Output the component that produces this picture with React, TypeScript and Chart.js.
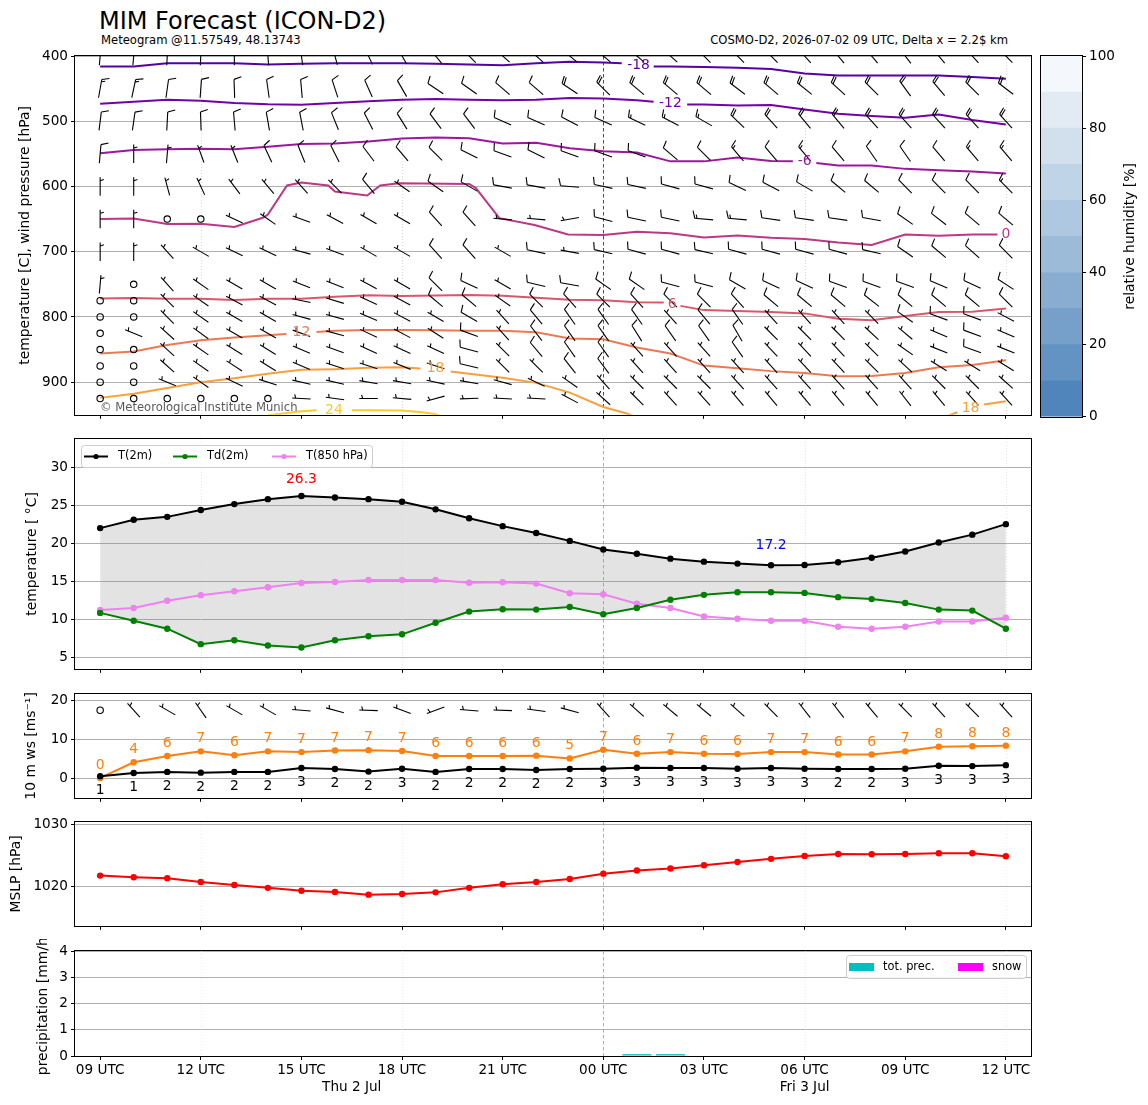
import React, { useEffect, useRef } from 'react';
import { Chart, registerables } from 'chart.js';

Chart.register(...registerables);

const FONT = '"DejaVu Sans", "Noto Sans", sans-serif';
const TICK_FS = 13.6;
const LABEL_FS = 13.9;
Chart.defaults.font.family = FONT;
Chart.defaults.font.size = TICK_FS;
Chart.defaults.color = '#000';

// ---------------- data ----------------
const hours = [0, 1, 2, 3, 4, 5, 6, 7, 8, 9, 10, 11, 12, 13, 14, 15, 16, 17, 18, 19, 20, 21, 22, 23, 24, 25, 26, 27];
const hourTicks = [0, 3, 6, 9, 12, 15, 18, 21, 24, 27];
const hourTickLabels = ['09 UTC', '12 UTC', '15 UTC', '18 UTC', '21 UTC', '00 UTC', '03 UTC', '06 UTC', '09 UTC', '12 UTC'];
const dateLabels = ['Thu 2 Jul', 'Fri 3 Jul'];
const dateLabelHours = [7.5, 21];
const vGridHours = [3, 9, 15, 21, 27];
const midnightHour = 15;

const t2m = [22.08, 23.17, 23.56, 24.46, 25.24, 25.89, 26.3, 26.1, 25.89, 25.54, 24.55, 23.38, 22.34, 21.44, 20.4, 19.27, 18.71, 18.06, 17.67, 17.41, 17.2, 17.22, 17.59, 18.19, 19.01, 20.18, 21.22, 22.6];
const td2m = [10.93, 9.89, 8.85, 6.82, 7.34, 6.64, 6.38, 7.34, 7.85, 8.11, 9.63, 11.1, 11.4, 11.36, 11.7, 10.75, 11.57, 12.66, 13.3, 13.65, 13.65, 13.56, 13.0, 12.74, 12.22, 11.36, 11.23, 8.85];
const t850 = [11.31, 11.57, 12.53, 13.26, 13.78, 14.3, 14.86, 14.99, 15.25, 15.25, 15.25, 14.9, 14.95, 14.78, 13.52, 13.39, 12.14, 11.57, 10.45, 10.15, 9.89, 9.89, 9.11, 8.85, 9.11, 9.8, 9.8, 10.28];

const ws10 = [0.66, 1.45, 1.74, 1.55, 1.74, 1.74, 2.73, 2.48, 1.82, 2.56, 1.74, 2.48, 2.48, 2.23, 2.48, 2.56, 2.81, 2.73, 2.73, 2.56, 2.73, 2.56, 2.48, 2.48, 2.56, 3.31, 3.22, 3.47];
const gust10 = [0.2, 4.2, 5.8, 7.0, 6.0, 7.0, 6.8, 7.2, 7.3, 7.1, 5.8, 5.8, 5.8, 5.9, 5.2, 7.4, 6.4, 6.8, 6.4, 6.3, 6.8, 6.8, 6.2, 6.2, 7.0, 8.2, 8.3, 8.45];
const dir10 = [0, 318, 300, 325, 300, 300, 275, 285, 272, 290, 250, 275, 272, 278, 285, 318, 312, 310, 310, 312, 315, 322, 322, 320, 315, 318, 315, 318];

const mslp = [1021.74, 1021.47, 1021.32, 1020.68, 1020.21, 1019.74, 1019.26, 1019.05, 1018.63, 1018.74, 1019.0, 1019.74, 1020.32, 1020.68, 1021.18, 1022.05, 1022.58, 1022.89, 1023.42, 1023.95, 1024.47, 1024.95, 1025.26, 1025.21, 1025.26, 1025.37, 1025.37, 1024.9];

const totPrec = [0, 0, 0, 0, 0, 0, 0, 0, 0, 0, 0, 0, 0, 0, 0, 0, 0.07, 0.07, 0, 0, 0, 0, 0, 0, 0, 0, 0, 0];
const snowPrec = [0, 0, 0, 0, 0, 0, 0, 0, 0, 0, 0, 0, 0, 0, 0, 0, 0, 0, 0, 0, 0, 0, 0, 0, 0, 0, 0, 0];

// upper-air wind: direction (deg, from) and speed (kt) per pressure level
const levels = [400, 450, 500, 550, 600, 650, 700, 750, 775, 800, 825, 850, 875, 900, 925];
const windDir = [
  [5, 5, 3, 3, 0, 355, 352, 345, 335, 330, 320, 315, 312, 312, 310, 310, 310, 312, 315, 315, 315, 318, 320, 320, 322, 320, 318, 315],
  [10, 12, 8, 4, 358, 352, 355, 342, 336, 330, 304, 305, 311, 311, 304, 315, 310, 310, 310, 307, 310, 309, 312, 315, 324, 320, 315, 307],
  [7, 8, 3, 358, 355, 350, 349, 338, 333, 328, 323, 323, 294, 294, 298, 294, 295, 298, 300, 314, 318, 320, 320, 318, 318, 318, 318, 318],
  [5, 0, 5, 340, 338, 335, 338, 333, 323, 320, 315, 297, 290, 296, 290, 290, 290, 310, 315, 320, 320, 320, 320, 325, 325, 320, 320, 320],
  [0, 0, 345, 335, 323, 320, 318, 315, 320, 305, 305, 300, 280, 280, 275, 282, 282, 285, 285, 295, 298, 300, 310, 310, 315, 315, 315, 315],
  [0, 0, 0, 0, 295, 305, 290, 298, 300, 300, 318, 318, 275, 275, 260, 285, 282, 282, 275, 275, 278, 278, 278, 280, 305, 308, 310, 310],
  [0, 0, 318, 300, 295, 295, 285, 290, 300, 300, 318, 318, 300, 282, 280, 283, 285, 285, 283, 285, 285, 285, 285, 283, 305, 310, 312, 315],
  [5, 0, 318, 305, 300, 300, 292, 292, 298, 300, 315, 295, 300, 283, 280, 305, 305, 285, 285, 300, 295, 295, 290, 290, 290, 293, 295, 303],
  [0, 0, 315, 305, 298, 298, 282, 287, 295, 298, 310, 310, 305, 315, 318, 315, 318, 315, 315, 318, 310, 310, 310, 308, 310, 310, 310, 315],
  [0, 0, 315, 305, 300, 300, 285, 285, 293, 298, 300, 300, 318, 320, 325, 325, 325, 318, 320, 325, 318, 318, 318, 315, 305, 290, 290, 298],
  [0, 292, 312, 306, 300, 300, 290, 285, 295, 298, 303, 290, 318, 322, 325, 325, 328, 325, 325, 330, 315, 315, 315, 313, 310, 293, 290, 293],
  [0, 0, 312, 305, 302, 302, 293, 290, 295, 295, 295, 285, 315, 320, 325, 325, 318, 318, 318, 325, 317, 317, 317, 315, 305, 292, 290, 292],
  [0, 0, 312, 305, 303, 302, 293, 288, 288, 292, 288, 283, 315, 315, 322, 323, 318, 318, 318, 318, 318, 317, 317, 315, 313, 302, 302, 302],
  [0, 0, 292, 305, 295, 288, 283, 283, 280, 280, 282, 280, 285, 295, 305, 318, 315, 315, 315, 318, 318, 318, 318, 318, 318, 315, 315, 312],
  [0, 0, 0, 0, 0, 0, 273, 278, 270, 275, 255, 268, 273, 273, 298, 312, 315, 318, 318, 320, 320, 320, 320, 320, 322, 320, 318, 318],
];
const windSpeed = [
  [15, 15, 15, 15, 15, 15, 15, 15, 15, 15, 15, 15, 15, 15, 20, 20, 20, 20, 20, 20, 20, 20, 20, 20, 20, 20, 20, 20],
  [15, 15, 10, 10, 10, 10, 10, 10, 10, 10, 10, 10, 10, 10, 20, 20, 20, 20, 20, 20, 20, 20, 20, 20, 20, 20, 20, 20],
  [10, 10, 10, 10, 10, 10, 10, 10, 10, 10, 10, 10, 10, 10, 10, 10, 15, 15, 15, 20, 20, 20, 20, 20, 20, 20, 20, 20],
  [10, 5, 5, 5, 5, 10, 10, 10, 10, 10, 10, 10, 10, 10, 10, 10, 10, 10, 10, 15, 10, 15, 10, 10, 10, 10, 15, 15],
  [5, 5, 5, 5, 5, 5, 5, 5, 10, 5, 10, 10, 10, 10, 10, 10, 10, 10, 10, 10, 10, 10, 10, 10, 10, 10, 10, 15],
  [5, 5, 0, 0, 5, 5, 5, 5, 5, 5, 10, 10, 5, 5, 5, 10, 10, 10, 15, 15, 10, 10, 10, 10, 10, 10, 10, 10],
  [5, 5, 5, 5, 5, 5, 5, 5, 5, 5, 10, 10, 5, 10, 5, 10, 10, 10, 10, 10, 10, 10, 10, 10, 10, 10, 10, 10],
  [5, 0, 5, 5, 5, 5, 5, 5, 5, 5, 10, 10, 5, 10, 10, 10, 10, 10, 10, 10, 10, 10, 10, 10, 10, 10, 10, 10],
  [0, 0, 5, 5, 5, 5, 5, 5, 5, 5, 10, 10, 5, 10, 10, 10, 10, 10, 10, 10, 10, 10, 10, 10, 10, 10, 10, 10],
  [0, 0, 5, 5, 5, 5, 5, 5, 5, 5, 5, 10, 5, 10, 10, 10, 10, 5, 10, 10, 5, 5, 5, 5, 10, 10, 10, 5],
  [0, 5, 5, 5, 5, 5, 5, 5, 5, 5, 5, 10, 5, 10, 10, 10, 10, 10, 10, 10, 5, 5, 5, 5, 5, 5, 10, 5],
  [0, 0, 5, 5, 5, 5, 5, 5, 5, 5, 5, 10, 5, 10, 10, 10, 5, 5, 5, 10, 5, 5, 5, 5, 5, 5, 10, 5],
  [0, 0, 5, 5, 5, 5, 5, 5, 5, 5, 5, 10, 5, 5, 10, 10, 5, 5, 5, 5, 5, 5, 5, 5, 5, 5, 5, 5],
  [0, 0, 5, 5, 5, 5, 5, 5, 5, 5, 5, 5, 5, 5, 5, 5, 5, 5, 5, 5, 5, 5, 5, 5, 5, 5, 5, 5],
  [0, 0, 0, 0, 0, 0, 5, 5, 5, 5, 5, 5, 5, 5, 5, 5, 5, 5, 5, 5, 5, 5, 5, 5, 5, 5, 5, 5],
];

// isotherms: [hour, pressure]; null pressure = gap for the inline label
const isoM18 = [[0, 416], [1, 416], [2, 411], [3, 411], [4, 411], [5, 413], [6, 412], [7, 411], [8, 411], [9, 411], [10, 412], [11, 413], [12, 414], [13, 411], [14, 409], [15, 410], [15.55, 411], [16.05, null], [16.5, 416], [17, 416], [18, 417], [19, 418], [20, 420], [21, 427], [22, 430], [23, 430], [24, 430], [25, 430], [26, 432], [27, 435]];
const isoM12 = [[0, 473], [1, 470], [2, 467], [3, 468.6], [4, 472], [5, 474], [6, 474.6], [7, 472], [8, 469.4], [9, 467], [10, 466], [11, 467], [12, 468], [13, 467], [14, 464.3], [15, 465], [16, 468], [16.5, 470], [17, null], [17.5, 474.5], [18, 474.5], [19, 476], [20, 475], [21, 482], [22, 488.6], [23, 492], [24, 494.7], [25, 489.6], [26, 498], [27, 505]];
const isoM6 = [[0, 549], [1, 544], [2, 543], [3, 542], [4, 543], [5, 539], [6, 535], [7, 534], [8, 531], [9, 526.6], [10, 525], [11, 526], [12, 534], [13, 533], [14, 541.5], [15, 546], [16, 548], [17, 561.5], [18, 561.5], [19, 555.5], [20, 561], [20.65, 561.5], [21, null], [21.35, 564], [22, 568], [23, 568], [24, 573], [25, 575], [26, 577], [27, 580]];
const iso0 = [[0, 650], [1, 649], [2, 657.5], [3, 657], [4, 662], [4.85, 648], [5.0, 643], [5.57, 598.5], [6.0, 594], [6.8, 598.5], [7.0, 607.6], [7.96, 613.7], [8.35, 598.5], [8.9, 595], [11.0, 596], [11.2, 602.5], [11.9, 648.5], [12.95, 659], [13.95, 673.5], [15, 674.5], [16, 669.4], [17, 671.5], [18, 678], [19, 675], [20, 678.5], [21, 680.6], [22, 686], [23, 689.7], [24, 673.5], [25, 675.5], [26, 673.5], [26.75, 673.5]];
const iso6 = [[0, 771.7], [1, 771], [2, 772], [3, 772], [4, 774], [5, 772], [6, 772], [7, 769], [8, 766.7], [9, 768], [10, 767], [11, 766.5], [12, 767.5], [13, 770.5], [14, 773.5], [15, 774.5], [16, 777.5], [16.8, 778], [17.05, null], [17.3, 783], [18, 789.5], [19, 791], [20, 792.5], [21, 794.5], [22, 802.6], [23, 805], [24, 798.5], [25, 792.5], [26, 792], [27, 787]];
const iso12 = [[0, 855.8], [1, 853], [2, 843], [3, 835.5], [4, 831.5], [5, 828], [5.55, 826], [6, null], [6.45, 823], [7, 821.3], [8, 819.8], [9, 820], [10, 820.5], [11, 821], [12, 821], [13, 823.4], [14, 833], [15, 834], [16, 846.7], [17, 856], [18, 874.5], [19, 878.6], [20, 883], [21, 886], [22, 891], [23, 890.5], [24, 886], [25, 877], [26, 873.5], [27, 866.5]];
const iso18 = [[0, 924], [1, 917.6], [2, 909], [3, 900], [4, 894], [5, 887], [6, 881], [7, 880], [8, 878], [9, 877], [9.55, 879], [10, null], [10.45, 883.6], [11, 887], [12, 893], [13, 901], [14, 916], [15, 938], [15.7, 948], [15.85, 951], [20, null], [25.3, 951], [25.55, 946], [26, null], [26.35, 934], [27, 929]];
const iso24 = [[5.0, 951], [5.2, 949.5], [6.0, 944.5], [6.45, 943], [6.97, null], [7.5, 943], [8, 943], [9, 943.5], [9.6, 946], [10.0, 949], [10.1, 951]];
const isoLines = [isoM18, isoM12, isoM6, iso0, iso6, iso12, iso18, iso24];
const isoValues = [-18, -12, -6, 0, 6, 12, 18, 24];
const isoLabelValues = [-18, -12, -6, 0, 6, 12, 18, 18, 24];
const isoLabelHours = [16.05, 17.0, 21.0, 27.0, 17.05, 6.0, 10.0, 25.95, 6.97];
const isoLabelPress = [414, 473, 562, 673.5, 780, 823.5, 879, 940, 942.5];

const p1Ticks = [400, 500, 600, 700, 800, 900];
const p2Ticks = [5, 10, 15, 20, 25, 30];
const p3Ticks = [0, 10, 20];
const p4Ticks = [1020, 1030];
const p5Ticks = [0, 1, 2, 3, 4];
const rhTicks = [0, 20, 40, 60, 80, 100];
const rhBounds = [0, 10, 20, 30, 40, 50, 60, 70, 80, 90, 100];

// ---------------- style ----------------
const isoColors = ['#5302a3', '#7201a8', '#9c179e', '#bd3786', '#d8576b', '#ed7953', '#fb9f3a', '#fdca26'];
const rhColors = ['#4f85bb', '#6393c3', '#76a0ca', '#88add1', '#9bbbd9', '#adc8e0', '#bfd4e7', '#d2e0ed', '#e2ebf4', '#f4f8fc'];
const W = 1148;
const PLOT_L = 75;
const PLOT_R = 1031;
const PAD_TOP = 12;
const BARB_L = 18.5;

// ---------------- helpers ----------------
function drawBarb(ctx: any, cx: number, cy: number, dirDeg: number, speed: number, L: number) {
  const spd = Math.round(speed / 5) * 5;
  ctx.save();
  ctx.strokeStyle = '#000';
  ctx.fillStyle = '#000';
  ctx.lineWidth = 1.1;
  if (spd <= 0) {
    ctx.beginPath();
    ctx.arc(cx, cy, 3.2, 0, Math.PI * 2);
    ctx.stroke();
    ctx.restore();
    return;
  }
  const r = (dirDeg * Math.PI) / 180;
  const dx = Math.sin(r);
  const dy = -Math.cos(r);
  const px = -dy;
  const py = dx;
  const bx = cx - (dx * L) / 2;
  const by = cy - (dy * L) / 2;
  const at = (o: number, side: number) => [bx + dx * o + px * side, by + dy * o + py * side];
  const h = 0.4 * L, w = 0.25 * L, s = 0.125 * L;
  ctx.beginPath();
  let p = at(0, 0);
  ctx.moveTo(p[0], p[1]);
  p = at(L, 0);
  ctx.lineTo(p[0], p[1]);
  ctx.stroke();
  const nflags = Math.floor(spd / 50);
  const rem = spd - nflags * 50;
  const nbarbs = Math.floor(rem / 10);
  const half = rem - nbarbs * 10 >= 5;
  let offset = L;
  for (let i = 0; i < nflags; i++) {
    if (offset !== L) offset += s / 2;
    const a = at(offset, 0), b = at(offset - w / 2, h), c = at(offset - w, 0);
    ctx.beginPath();
    ctx.moveTo(a[0], a[1]);
    ctx.lineTo(b[0], b[1]);
    ctx.lineTo(c[0], c[1]);
    ctx.closePath();
    ctx.fill();
    offset -= w + s;
  }
  for (let i = 0; i < nbarbs; i++) {
    const a = at(offset, 0), b = at(offset + w / 2, h);
    ctx.beginPath();
    ctx.moveTo(a[0], a[1]);
    ctx.lineTo(b[0], b[1]);
    ctx.stroke();
    offset -= s;
  }
  if (half) {
    if (offset === L) offset -= 1.5 * s;
    const a = at(offset, 0), b = at(offset + w / 4, h / 2);
    ctx.beginPath();
    ctx.moveTo(a[0], a[1]);
    ctx.lineTo(b[0], b[1]);
    ctx.stroke();
  }
  ctx.restore();
}

const framePlugin = {
  id: 'frame',
  afterDraw(chart: any) {
    const { ctx, chartArea: a } = chart;
    ctx.save();
    ctx.strokeStyle = '#000';
    ctx.lineWidth = 1;
    ctx.strokeRect(Math.round(a.left) - 0.5, Math.round(a.top) - 0.5, Math.round(a.right - a.left) + 1, Math.round(a.bottom - a.top) + 1);
    ctx.restore();
  },
};

function vGridPlugin(midColor: string, otherColor: string) {
  return {
    id: 'vgrid',
    beforeDatasetsDraw(chart: any) {
      const { ctx, chartArea: a, scales } = chart;
      ctx.save();
      vGridHours.forEach((hr) => {
        const x = Math.round(scales.x.getPixelForValue(hr)) + 0.5;
        const mid = hr === midnightHour;
        ctx.strokeStyle = mid ? midColor : otherColor;
        ctx.lineWidth = mid ? 0.8 : 0.6;
        ctx.setLineDash(mid ? [3.5, 2.5] : [1, 2]);
        ctx.beginPath();
        ctx.moveTo(x, a.top);
        ctx.lineTo(x, a.bottom);
        ctx.stroke();
      });
      ctx.restore();
    },
  };
}

function xScale(showLabels: boolean, bottomSpace: number) {
  return {
    type: 'linear',
    min: -0.75,
    max: 27.75,
    afterBuildTicks: (s: any) => {
      s.ticks = hourTicks.map((v) => ({ value: v }));
    },
    ticks: {
      display: showLabels,
      autoSkip: false,
      maxRotation: 0,
      minRotation: 0,
      padding: 2,
      color: '#000',
      font: { size: TICK_FS },
      callback: (v: number) => {
        const i = hourTicks.indexOf(v);
        return i >= 0 ? hourTickLabels[i] : '';
      },
    },
    grid: { drawOnChartArea: false, drawTicks: true, tickLength: 4, tickColor: '#000', color: '#000' },
    border: { display: false },
    afterFit: (s: any) => {
      s.height = bottomSpace;
    },
  };
}

function yScale(min: number, max: number, ticks: number[], title: string, titleCenter: number, reverse = false) {
  return {
    type: 'linear',
    min,
    max,
    reverse,
    afterBuildTicks: (s: any) => {
      s.ticks = ticks.map((v) => ({ value: v }));
    },
    ticks: { autoSkip: false, padding: 3, color: '#000', font: { size: TICK_FS }, callback: (v: number) => `${v}` },
    grid: { color: '#b0b0b0', lineWidth: 1, tickColor: '#000', tickLength: 4 },
    border: { display: false },
    title: { display: true, text: title, color: '#000', font: { size: LABEL_FS }, padding: { top: titleCenter - (1.2 * LABEL_FS) / 2, bottom: 0 } },
    afterFit: (s: any) => {
      s.width = PLOT_L;
    },
  };
}

function baseOptions(x: any, y: any) {
  return {
    animation: false,
    responsive: false,
    maintainAspectRatio: false,
    events: [],
    layout: { padding: { left: 0, right: W - PLOT_R, top: PAD_TOP, bottom: 0 } },
    plugins: { legend: { display: false }, tooltip: { enabled: false }, filler: { drawTime: 'beforeDatasetsDraw' } },
    scales: { x, y },
  };
}

const pts = (arr: number[]) => hours.map((hr, i) => ({ x: hr, y: arr[i] }));

function lineDs(label: string, arr: number[], color: string, extra: any = {}) {
  return {
    label,
    data: pts(arr),
    borderColor: color,
    backgroundColor: color,
    pointBackgroundColor: color,
    pointBorderWidth: 0,
    pointRadius: 3.2,
    borderWidth: 2,
    tension: 0,
    fill: false,
    ...extra,
  };
}

// ---------------- panel configs ----------------
function cfgUpper(): any {
  const barbs = {
    id: 'barbs',
    afterDatasetsDraw(chart: any) {
      const { ctx, chartArea: a, scales } = chart;
      ctx.save();
      ctx.beginPath();
      ctx.rect(a.left, a.top, a.right - a.left, a.bottom - a.top);
      ctx.clip();
      levels.forEach((lev, li) => {
        hours.forEach((hr, hi) => {
          drawBarb(ctx, scales.x.getPixelForValue(hr), scales.y.getPixelForValue(lev), windDir[li][hi], windSpeed[li][hi], BARB_L);
        });
      });
      ctx.restore();
    },
  };
  const isoLabels = {
    id: 'isoLabels',
    afterDatasetsDraw(chart: any) {
      const { ctx, scales } = chart;
      ctx.save();
      ctx.font = `${LABEL_FS}px ${FONT}`;
      ctx.textAlign = 'center';
      ctx.textBaseline = 'middle';
      isoLabelValues.forEach((v, i) => {
        ctx.fillStyle = isoColors[isoValues.indexOf(v)];
        ctx.fillText(`${v}`, scales.x.getPixelForValue(isoLabelHours[i]), scales.y.getPixelForValue(isoLabelPress[i]));
      });
      ctx.restore();
    },
  };
  const copyright = {
    id: 'copyright',
    afterDatasetsDraw(chart: any) {
      const { ctx, chartArea: a } = chart;
      ctx.save();
      ctx.font = `11.6px ${FONT}`;
      ctx.fillStyle = 'rgba(60,60,60,0.85)';
      ctx.textAlign = 'left';
      ctx.textBaseline = 'alphabetic';
      ctx.fillText('© Meteorological Institute Munich', a.left + 25, a.bottom - 4);
      ctx.restore();
    },
  };
  return {
    type: 'line',
    data: {
      datasets: isoLines.map((line, i) => ({
        label: `${isoValues[i]}`,
        data: line.map((pt) => ({ x: pt[0], y: pt[1] })),
        borderColor: isoColors[i],
        borderWidth: 2,
        pointRadius: 0,
        fill: false,
        tension: 0,
        spanGaps: false,
      })),
    },
    options: baseOptions(xScale(false, 8), yScale(400, 950, p1Ticks, 'temperature [C], wind pressure [hPa]', 25, true)),
    plugins: [vGridPlugin('#222', '#c4c4c4'), barbs, isoLabels, copyright, framePlugin],
  };
}

function cfgTemp(): any {
  const extremes = {
    id: 'extremes',
    afterDatasetsDraw(chart: any) {
      const { ctx, scales } = chart;
      const mx = Math.max(...t2m);
      const mn = Math.min(...t2m);
      ctx.save();
      ctx.font = `${LABEL_FS}px ${FONT}`;
      ctx.textAlign = 'center';
      ctx.textBaseline = 'middle';
      ctx.fillStyle = '#ff0000';
      ctx.fillText(mx.toFixed(1), scales.x.getPixelForValue(hours[t2m.indexOf(mx)]), scales.y.getPixelForValue(mx + 2.2));
      ctx.fillStyle = '#0000ff';
      ctx.fillText(mn.toFixed(1), scales.x.getPixelForValue(hours[t2m.indexOf(mn)]), scales.y.getPixelForValue(mn + 2.6));
      ctx.restore();
    },
  };
  const legend = {
    id: 'legendBox',
    afterDraw(chart: any) {
      const { ctx, chartArea: a } = chart;
      const lx = a.left + 6, ly = a.top + 6, lw = 291, lh = 22;
      ctx.save();
      ctx.fillStyle = 'rgba(255,255,255,0.85)';
      ctx.strokeStyle = '#cccccc';
      ctx.lineWidth = 1;
      ctx.beginPath();
      (ctx as any).roundRect(lx + 0.5, ly + 0.5, lw, lh, 3);
      ctx.fill();
      ctx.stroke();
      const offs = [3, 92, 191];
      ctx.font = `11.4px ${FONT}`;
      ctx.textBaseline = 'middle';
      ctx.textAlign = 'left';
      chart.data.datasets.forEach((ds: any, i: number) => {
        const x0 = lx + offs[i];
        const yc = ly + lh / 2 + 0.5;
        ctx.strokeStyle = ds.borderColor;
        ctx.lineWidth = 2;
        ctx.beginPath();
        ctx.moveTo(x0, yc);
        ctx.lineTo(x0 + 24, yc);
        ctx.stroke();
        ctx.fillStyle = ds.borderColor;
        ctx.beginPath();
        ctx.arc(x0 + 12, yc, 2.6, 0, Math.PI * 2);
        ctx.fill();
        ctx.fillStyle = '#000';
        ctx.fillText(ds.label, x0 + 34, yc);
      });
      ctx.restore();
    },
  };
  return {
    type: 'line',
    data: {
      datasets: [
        lineDs('T(2m)', t2m, '#000000', { fill: '+1', backgroundColor: 'rgba(128,128,128,0.22)' }),
        lineDs('Td(2m)', td2m, '#008000'),
        lineDs('T(850 hPa)', t850, '#ee82ee'),
      ],
    },
    options: baseOptions(xScale(false, 8), yScale(3.57, 33.8, p2Ticks, 'temperature [ °C]', 32)),
    plugins: [vGridPlugin('#999', '#d8d8d8'), extremes, legend, framePlugin],
  };
}

function cfgWind(): any {
  const extras = {
    id: 'windExtras',
    afterDatasetsDraw(chart: any) {
      const { ctx, scales } = chart;
      hours.forEach((hr, i) => {
        drawBarb(ctx, scales.x.getPixelForValue(hr), scales.y.getPixelForValue(17.5), dir10[i], ws10[i] * 1.943844, BARB_L);
      });
      ctx.save();
      ctx.font = `${LABEL_FS}px ${FONT}`;
      ctx.textAlign = 'center';
      ctx.textBaseline = 'middle';
      hours.forEach((hr, i) => {
        const x = scales.x.getPixelForValue(hr);
        ctx.fillStyle = '#000';
        ctx.fillText(`${Math.round(ws10[i])}`, x, scales.y.getPixelForValue(ws10[i] - 3.7));
        ctx.fillStyle = '#ff7f0e';
        ctx.fillText(`${Math.round(gust10[i])}`, x, scales.y.getPixelForValue(gust10[i] + 3.2));
      });
      ctx.restore();
    },
  };
  return {
    type: 'line',
    data: {
      datasets: [lineDs('wind speed', ws10, '#000000'), lineDs('gusts', gust10, '#ff7f0e')],
    },
    options: baseOptions(xScale(false, 8), yScale(-4.89, 21.66, p3Ticks, '10 m ws [ms⁻¹]', 31)),
    plugins: [vGridPlugin('#999', '#e0e0e0'), extras, framePlugin],
  };
}

function cfgPres(): any {
  return {
    type: 'line',
    data: { datasets: [lineDs('MSLP', mslp, '#ff0000')] },
    options: baseOptions(xScale(false, 8), yScale(1013.54, 1030.48, p4Ticks, 'MSLP [hPa]', 16)),
    plugins: [vGridPlugin('#999', '#e0e0e0'), framePlugin],
  };
}

function cfgPrecip(): any {
  const extras = {
    id: 'precipExtras',
    afterDraw(chart: any) {
      const { ctx, chartArea: a, scales } = chart;
      ctx.save();
      ctx.font = `${TICK_FS}px ${FONT}`;
      ctx.fillStyle = '#000';
      ctx.textAlign = 'center';
      ctx.textBaseline = 'middle';
      dateLabels.forEach((t, i) => ctx.fillText(t, scales.x.getPixelForValue(dateLabelHours[i]), a.bottom + 31));
      const lw = 180, lh = 23;
      const lx = a.right - 5 - lw, ly = a.top + 4;
      ctx.fillStyle = 'rgba(255,255,255,0.85)';
      ctx.strokeStyle = '#cccccc';
      ctx.lineWidth = 1;
      ctx.beginPath();
      (ctx as any).roundRect(lx + 0.5, ly + 0.5, lw, lh, 3);
      ctx.fill();
      ctx.stroke();
      const offs = [3, 112];
      ctx.font = `11.4px ${FONT}`;
      ctx.textAlign = 'left';
      chart.data.datasets.forEach((ds: any, i: number) => {
        const x0 = lx + offs[i];
        const yc = ly + lh / 2 + 0.5;
        ctx.fillStyle = ds.backgroundColor;
        ctx.fillRect(x0, yc - 4, 25, 8);
        ctx.fillStyle = '#000';
        ctx.fillText(ds.label, x0 + 34, yc);
      });
      ctx.restore();
    },
  };
  const opts: any = baseOptions(xScale(true, 49), yScale(0, 4, p5Ticks, 'precipitation [mm/h]', 43));
  opts.scales.x.offset = false;
  opts.scales.x.grid.offset = false;
  return {
    type: 'bar',
    data: {
      datasets: [
        { label: 'tot. prec.', data: pts(totPrec), backgroundColor: '#00bfbf', grouped: false, barPercentage: 0.93, categoryPercentage: 0.93, borderWidth: 0 },
        { label: 'snow', data: pts(snowPrec), backgroundColor: '#ff00ff', grouped: false, barPercentage: 0.93, categoryPercentage: 0.93, borderWidth: 0 },
      ],
    },
    options: opts,
    plugins: [vGridPlugin('#999', '#e0e0e0'), extras, framePlugin],
  };
}

function cfgColorbar(): any {
  const title = {
    id: 'cbTitle',
    afterDraw(chart: any) {
      const { ctx, chartArea: a } = chart;
      ctx.save();
      ctx.translate(100, (a.top + a.bottom) / 2);
      ctx.rotate(-Math.PI / 2);
      ctx.font = `${LABEL_FS}px ${FONT}`;
      ctx.fillStyle = '#000';
      ctx.textAlign = 'center';
      ctx.textBaseline = 'middle';
      ctx.fillText('relative humidity [%]', 0, 0);
      ctx.restore();
    },
  };
  return {
    type: 'bar',
    data: {
      labels: ['rh'],
      datasets: rhColors.map((c, i) => ({
        label: `${rhBounds[i]}-${rhBounds[i + 1]}`,
        data: [rhBounds[i + 1] - rhBounds[i]],
        backgroundColor: c,
        borderWidth: 0,
        barPercentage: 1,
        categoryPercentage: 1,
        stack: 'rh',
      })),
    },
    options: {
      animation: false,
      responsive: false,
      maintainAspectRatio: false,
      events: [],
      layout: { padding: { left: 11, right: 0, top: PAD_TOP, bottom: 10 } },
      plugins: { legend: { display: false }, tooltip: { enabled: false } },
      scales: {
        x: { display: false, stacked: true },
        y: {
          position: 'right',
          stacked: true,
          min: 0,
          max: 100,
          afterBuildTicks: (s: any) => {
            s.ticks = rhTicks.map((v) => ({ value: v }));
          },
          ticks: { padding: 3, color: '#000', font: { size: TICK_FS }, callback: (v: number) => `${v}` },
          grid: { drawOnChartArea: false, tickLength: 4, tickColor: '#000', color: '#000' },
          border: { display: false },
          afterFit: (s: any) => {
            s.width = 66;
          },
        },
      },
    },
    plugins: [title, framePlugin],
  };
}

// ---------------- component ----------------
const panels = [
  { top: 56, bottom: 418, below: 8 },
  { top: 439, bottom: 672, below: 8 },
  { top: 694, bottom: 801, below: 8 },
  { top: 822, bottom: 929, below: 8 },
  { top: 951, bottom: 1056, below: 49 },
];

export default function App() {
  const refs = [useRef<HTMLCanvasElement>(null), useRef<HTMLCanvasElement>(null), useRef<HTMLCanvasElement>(null), useRef<HTMLCanvasElement>(null), useRef<HTMLCanvasElement>(null)];
  const cbRef = useRef<HTMLCanvasElement>(null);

  useEffect(() => {
    const makers = [cfgUpper, cfgTemp, cfgWind, cfgPres, cfgPrecip];
    const charts: Chart[] = [];
    refs.forEach((r, i) => {
      if (r.current) charts.push(new Chart(r.current, makers[i]()));
    });
    if (cbRef.current) charts.push(new Chart(cbRef.current, cfgColorbar()));
    return () => charts.forEach((c) => c.destroy());
  }, []);

  return (
    <div style={{ position: 'absolute', left: 0, top: 0, width: W, height: 1105, background: '#fff', fontFamily: FONT, color: '#000', overflow: 'hidden' }}>
      <div style={{ position: 'absolute', left: 99, top: 7, fontSize: 24, lineHeight: '28px', whiteSpace: 'nowrap' }}>MIM Forecast (ICON-D2)</div>
      <div style={{ position: 'absolute', left: 101, top: 34, fontSize: 11.6, lineHeight: '13px', whiteSpace: 'nowrap' }}>Meteogram @11.57549, 48.13743</div>
      <div style={{ position: 'absolute', left: 0, width: 1008, top: 34, fontSize: 11.6, lineHeight: '13px', textAlign: 'right', whiteSpace: 'nowrap' }}>COSMO-D2, 2026-07-02 09 UTC, Delta x = 2.2$ km</div>
      {panels.map((p, i) => {
        const h = PAD_TOP + (p.bottom - p.top) + p.below;
        return (
          <canvas
            key={i}
            ref={refs[i]}
            width={W}
            height={h}
            style={{ position: 'absolute', left: 0, top: p.top - PAD_TOP, width: W, height: h, display: 'block' }}
          />
        );
      })}
      <canvas ref={cbRef} width={118} height={384} style={{ position: 'absolute', left: 1030, top: 56 - PAD_TOP, width: 118, height: 384, display: 'block' }} />
    </div>
  );
}
